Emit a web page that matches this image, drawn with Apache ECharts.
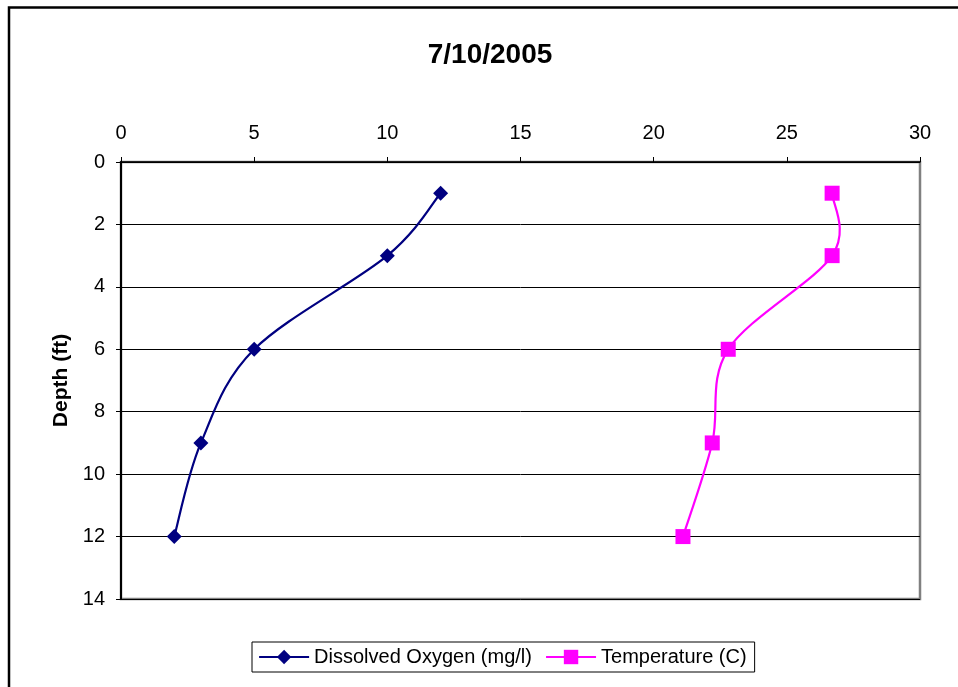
<!DOCTYPE html>
<html><head><meta charset="utf-8">
<script src="https://cdn.jsdelivr.net/npm/echarts@6/dist/echarts.min.js"></script>
<style>html,body{margin:0;padding:0;background:#fff}#c{width:958px;height:687px}</style>
</head><body><div id="c"></div>
<script>
const depths = [1, 3, 6, 9, 12];
const dissolvedOxygen = [12, 10, 5, 3, 2];
const temperature = [26.7, 26.7, 22.8, 22.2, 21.1];
const xTicks = [0, 5, 10, 15, 20, 25, 30];
const yTicks = [0, 2, 4, 6, 8, 10, 12, 14];

const chart = echarts.init(document.getElementById('c'));
const font = 'Arial, "Liberation Sans", sans-serif';
const DO_COLOR = '#000080', T_COLOR = '#FF00FF';

// Excel-like smoothed line: Catmull-Rom segments through the data points, positioned by the axes
function smoothSegment(xs, color) {
  return function (params, api) {
    const i = params.dataIndex;
    if (i >= xs.length - 1) return null;
    const P = k => api.coord([xs[Math.max(0, Math.min(xs.length - 1, k))], depths[Math.max(0, Math.min(xs.length - 1, k))]]);
    const p0 = P(i - 1), p1 = P(i), p2 = P(i + 1), p3 = P(i + 2);
    return {
      type: 'bezierCurve',
      shape: {
        x1: p1[0], y1: p1[1], x2: p2[0], y2: p2[1],
        cpx1: p1[0] + (p2[0] - p0[0]) / 6, cpy1: p1[1] + (p2[1] - p0[1]) / 6,
        cpx2: p2[0] - (p3[0] - p1[0]) / 6, cpy2: p2[1] - (p3[1] - p1[1]) / 6
      },
      style: {stroke: color, lineWidth: 2.2, fill: 'none'}
    };
  };
}

chart.setOption({
  animation: false,
  backgroundColor: '#fff',
  title: {text: '7/10/2005', left: 485, top: 36, textAlign: 'center',
    textStyle: {fontFamily: font, fontSize: 28, fontWeight: 'bold', color: '#000'}},
  graphic: [{type: 'rect', shape: {x: 9, y: 7.5, width: 970, height: 700},
    style: {fill: 'none', stroke: '#000', lineWidth: 2.5}, z: 100}],
  grid: {left: 121, right: 38, top: 162, bottom: 88, show: true,
    borderColor: '#808080', borderWidth: 2.5, backgroundColor: '#fff'},
  legend: {bottom: 15, left: 252, itemWidth: 50, itemHeight: 18, itemGap: 13,
    borderColor: '#000', borderWidth: 1, padding: [5, 8, 5, 6],
    textStyle: {fontFamily: font, fontSize: 20, color: '#000'},
    data: [
      {name: 'Dissolved Oxygen (mg/l)', lineStyle: {opacity: 1, width: 2.2, color: DO_COLOR}},
      {name: 'Temperature (C)', lineStyle: {opacity: 1, width: 2.2, color: T_COLOR}}
    ]},
  xAxis: {type: 'value', position: 'top', min: 0, max: 30, interval: 5,
    axisLine: {show: true, lineStyle: {color: '#000', width: 1.5}},
    axisTick: {show: true, length: 5, inside: false, lineStyle: {color: '#000'}},
    axisLabel: {fontFamily: font, fontSize: 20, color: '#000', margin: 19,
      formatter: v => xTicks.includes(v) ? String(v) : ''},
    splitLine: {show: false}},
  yAxis: {type: 'value', inverse: true, min: 0, max: 14, interval: 2,
    name: 'Depth (ft)', nameLocation: 'middle', nameGap: 49,
    nameTextStyle: {fontFamily: font, fontSize: 21, fontWeight: 'bold', color: '#000'},
    axisLine: {show: true, lineStyle: {color: '#000', width: 2}},
    axisTick: {show: true, length: 5, lineStyle: {color: '#000'}},
    axisLabel: {fontFamily: font, fontSize: 20, color: '#000', margin: 16,
      formatter: v => yTicks.includes(v) ? String(v) : ''},
    splitLine: {show: true, lineStyle: {color: '#000', width: 1}}},
  series: [
    {name: 'do-curve', type: 'custom', z: 2, silent: true,
      data: depths.map((d, i) => [dissolvedOxygen[i], d]), encode: {x: 0, y: 1},
      renderItem: smoothSegment(dissolvedOxygen, DO_COLOR)},
    {name: 't-curve', type: 'custom', z: 2, silent: true,
      data: depths.map((d, i) => [temperature[i], d]), encode: {x: 0, y: 1},
      renderItem: smoothSegment(temperature, T_COLOR)},
    {name: 'Dissolved Oxygen (mg/l)', type: 'line', z: 3,
      data: depths.map((d, i) => [dissolvedOxygen[i], d]),
      symbol: 'diamond', symbolSize: 15,
      lineStyle: {color: DO_COLOR, width: 2, opacity: 0}, itemStyle: {color: DO_COLOR}},
    {name: 'Temperature (C)', type: 'line', z: 3,
      data: depths.map((d, i) => [temperature[i], d]),
      symbol: 'rect', symbolSize: 15,
      lineStyle: {color: T_COLOR, width: 2, opacity: 0}, itemStyle: {color: T_COLOR}}
  ]
});
</script></body></html>
